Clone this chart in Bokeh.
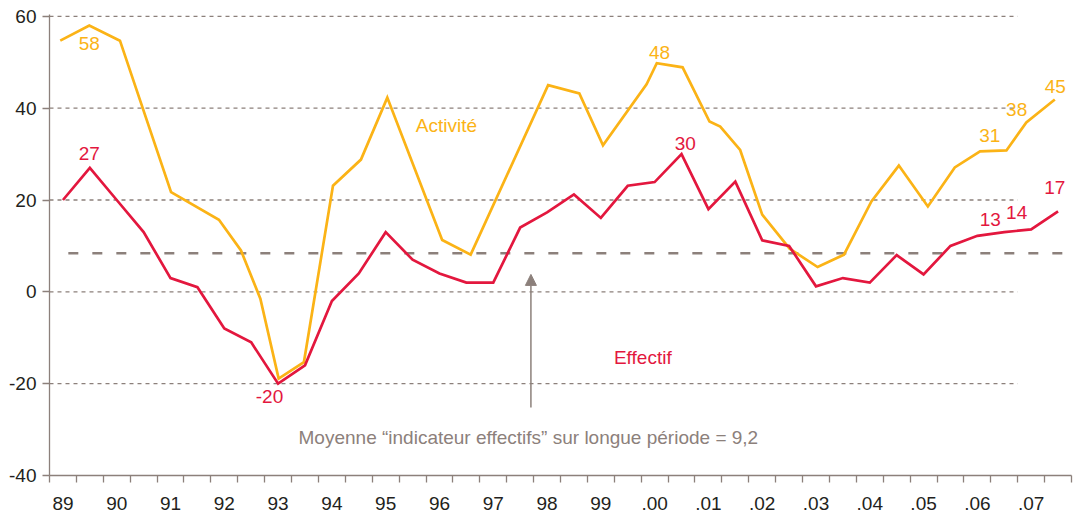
from bokeh.plotting import figure
from bokeh.models import Range1d, FixedTicker, Arrow, NormalHead, ColumnDataSource
from bokeh.core.properties import value
from bokeh.embed import file_html
from bokeh.resources import INLINE

# ---------------- data ----------------
YEARS = list(range(1989, 2008))
YEAR_LABELS = ["89", "90", "91", "92", "93", "94", "95", "96", "97", "98", "99",
               ".00", ".01", ".02", ".03", ".04", ".05", ".06", ".07"]

# Effectif (semi-annual)
EFFECTIF = [20, 27, 20, 13, 3, 1, -8, -11, -20, -16, -2, 4, 13, 7, 4, 2, 2, 14,
            17.3, 21.2, 16.1, 23.1, 23.9, 30, 18, 24, 11.2, 10, 1.2, 3, 2, 8, 3.8,
            10, 12.2, 13, 13.6, 17.5]
EFFECTIF_X = [1989.25 + 0.5 * i for i in range(len(EFFECTIF))]

# Activité
ACTIVITE_X = [1989.20, 1989.74, 1990.31, 1991.26, 1992.15, 1992.56, 1992.92, 1993.26,
              1993.73, 1994.27, 1994.79, 1995.28, 1996.30, 1996.83, 1998.27, 1998.85,
              1999.29, 2000.10, 2000.29, 2000.77, 2001.27, 2001.47, 2001.84, 2002.25,
              2002.76, 2003.28, 2003.77, 2004.28, 2004.79, 2005.33, 2005.83, 2006.30,
              2006.79, 2007.16, 2007.69]
ACTIVITE = [54.7, 58.0, 54.7, 21.7, 15.7, 9.0, -1.5, -18.9, -15.3, 23.1, 28.8, 42.3,
            11.3, 8.1, 45.0, 43.2, 31.9, 45.2, 49.8, 48.9, 37.1, 36.0, 30.9, 16.8,
            9.4, 5.4, 8.1, 19.7, 27.5, 18.6, 27.1, 30.6, 30.8, 36.9, 41.9]

Y_TICKS = [-40, -20, 0, 20, 40, 60]
Y_TICK_LABELS = ["-40", "-20", "0", "20", "40", "60"]
GRID_VALUES = [60, 40, 20, 0, -20]
MEAN_LEVEL = 8.4
MEAN_TEXT = "Moyenne \u201cindicateur effectifs\u201d sur longue p\u00e9riode = 9,2"

YELLOW = "#FBB316"
RED = "#E3173E"
GRAY = "#8C807B"
DARK = "#231F20"

LABEL_TEXT = ["58", "27", "-20", "48", "30", "31", "38", "45", "17", "13", "14",
              "Activit\u00e9", "Effectif"]
LABEL_X = [1989.74, 1989.74, 1993.09, 2000.34, 2000.82, 2006.48, 2006.98, 2007.70,
           2007.69, 2006.49, 2006.98, 1996.38, 2000.03]
LABEL_Y = [54.1, 30.1, -22.8, 52.2, 32.2, 34.0, 39.8, 44.8, 22.7, 15.7, 17.2, 36.2, -14.4]
LABEL_COLOR = [YELLOW, RED, RED, YELLOW, RED, YELLOW, YELLOW, YELLOW, RED, RED, RED,
               YELLOW, RED]

FONT = "Liberation Sans"

# ---------------- figure ----------------
p = figure(width=1073, height=513,
           x_range=Range1d(1989, 2008), y_range=Range1d(-40, 60.4),
           min_border_left=49, min_border_right=2, min_border_top=14, min_border_bottom=38,
           toolbar_location=None, output_backend="svg")
p.outline_line_color = None
p.xgrid.visible = False
p.ygrid.visible = False
p.background_fill_color = "white"
p.border_fill_color = "white"

# grid lines (dashed, stopping at 2007)
p.multi_line(xs=[[1989, 2007] for _ in GRID_VALUES], ys=[[g, g] for g in GRID_VALUES],
             line_color=GRAY, line_width=1.3, line_dash="4 4")

# long-period mean line
p.line(x=[1989.35, 2007.83], y=[MEAN_LEVEL, MEAN_LEVEL], line_color=GRAY,
       line_width=2.6, line_dash="10 14")

# series
p.line(x=ACTIVITE_X, y=ACTIVITE, line_color=YELLOW, line_width=2.7, line_join="miter")
p.line(x=EFFECTIF_X, y=EFFECTIF, line_color=RED, line_width=2.7, line_join="miter")

# arrow
p.add_layout(Arrow(x_start=1997.95, y_start=-25.2, x_end=1997.95, y_end=3.8,
                   line_color=GRAY, line_width=1.5,
                   end=NormalHead(size=11, fill_color=GRAY, line_color=GRAY)))

# labels
src = ColumnDataSource(dict(x=LABEL_X, y=LABEL_Y, text=LABEL_TEXT, color=LABEL_COLOR))
p.text(x="x", y="y", text="text", source=src, text_color="color",
       text_font=value(FONT), text_font_size="19px",
       text_align="center", text_baseline="middle")
p.text(x=[1993.63], y=[-31.7], text=[MEAN_TEXT], text_color=GRAY,
       text_font=value(FONT), text_font_size="19px",
       text_align="left", text_baseline="middle")

# axes
xa = p.xaxis[0]
xa.ticker = FixedTicker(ticks=[y + 0.25 for y in YEARS],
                        minor_ticks=[1989 + 0.5 * i for i in range(39)])
xa.major_label_overrides = {y + 0.25: lab for y, lab in zip(YEARS, YEAR_LABELS)}
xa.major_tick_out = 0
xa.major_tick_in = 0
xa.major_tick_line_color = None
xa.minor_tick_out = 7
xa.minor_tick_in = 0
xa.minor_tick_line_color = GRAY
xa.minor_tick_line_width = 1.3
xa.axis_line_color = GRAY
xa.axis_line_width = 1.3
xa.major_label_standoff = 14
xa.major_label_text_font = FONT
xa.major_label_text_font_size = "19px"
xa.major_label_text_color = DARK

ya = p.yaxis[0]
ya.ticker = FixedTicker(ticks=Y_TICKS)
ya.major_label_overrides = {t: lab for t, lab in zip(Y_TICKS, Y_TICK_LABELS)}
ya.major_tick_out = 7
ya.major_tick_in = 0
ya.minor_tick_out = 0
ya.minor_tick_in = 0
ya.major_tick_line_color = GRAY
ya.major_tick_line_width = 1.3
ya.axis_line_color = GRAY
ya.axis_line_width = 1.3
ya.major_label_standoff = 6
ya.major_label_text_font = FONT
ya.major_label_text_font_size = "19px"
ya.major_label_text_color = DARK

open("out.html", "w").write(file_html(p, INLINE))
